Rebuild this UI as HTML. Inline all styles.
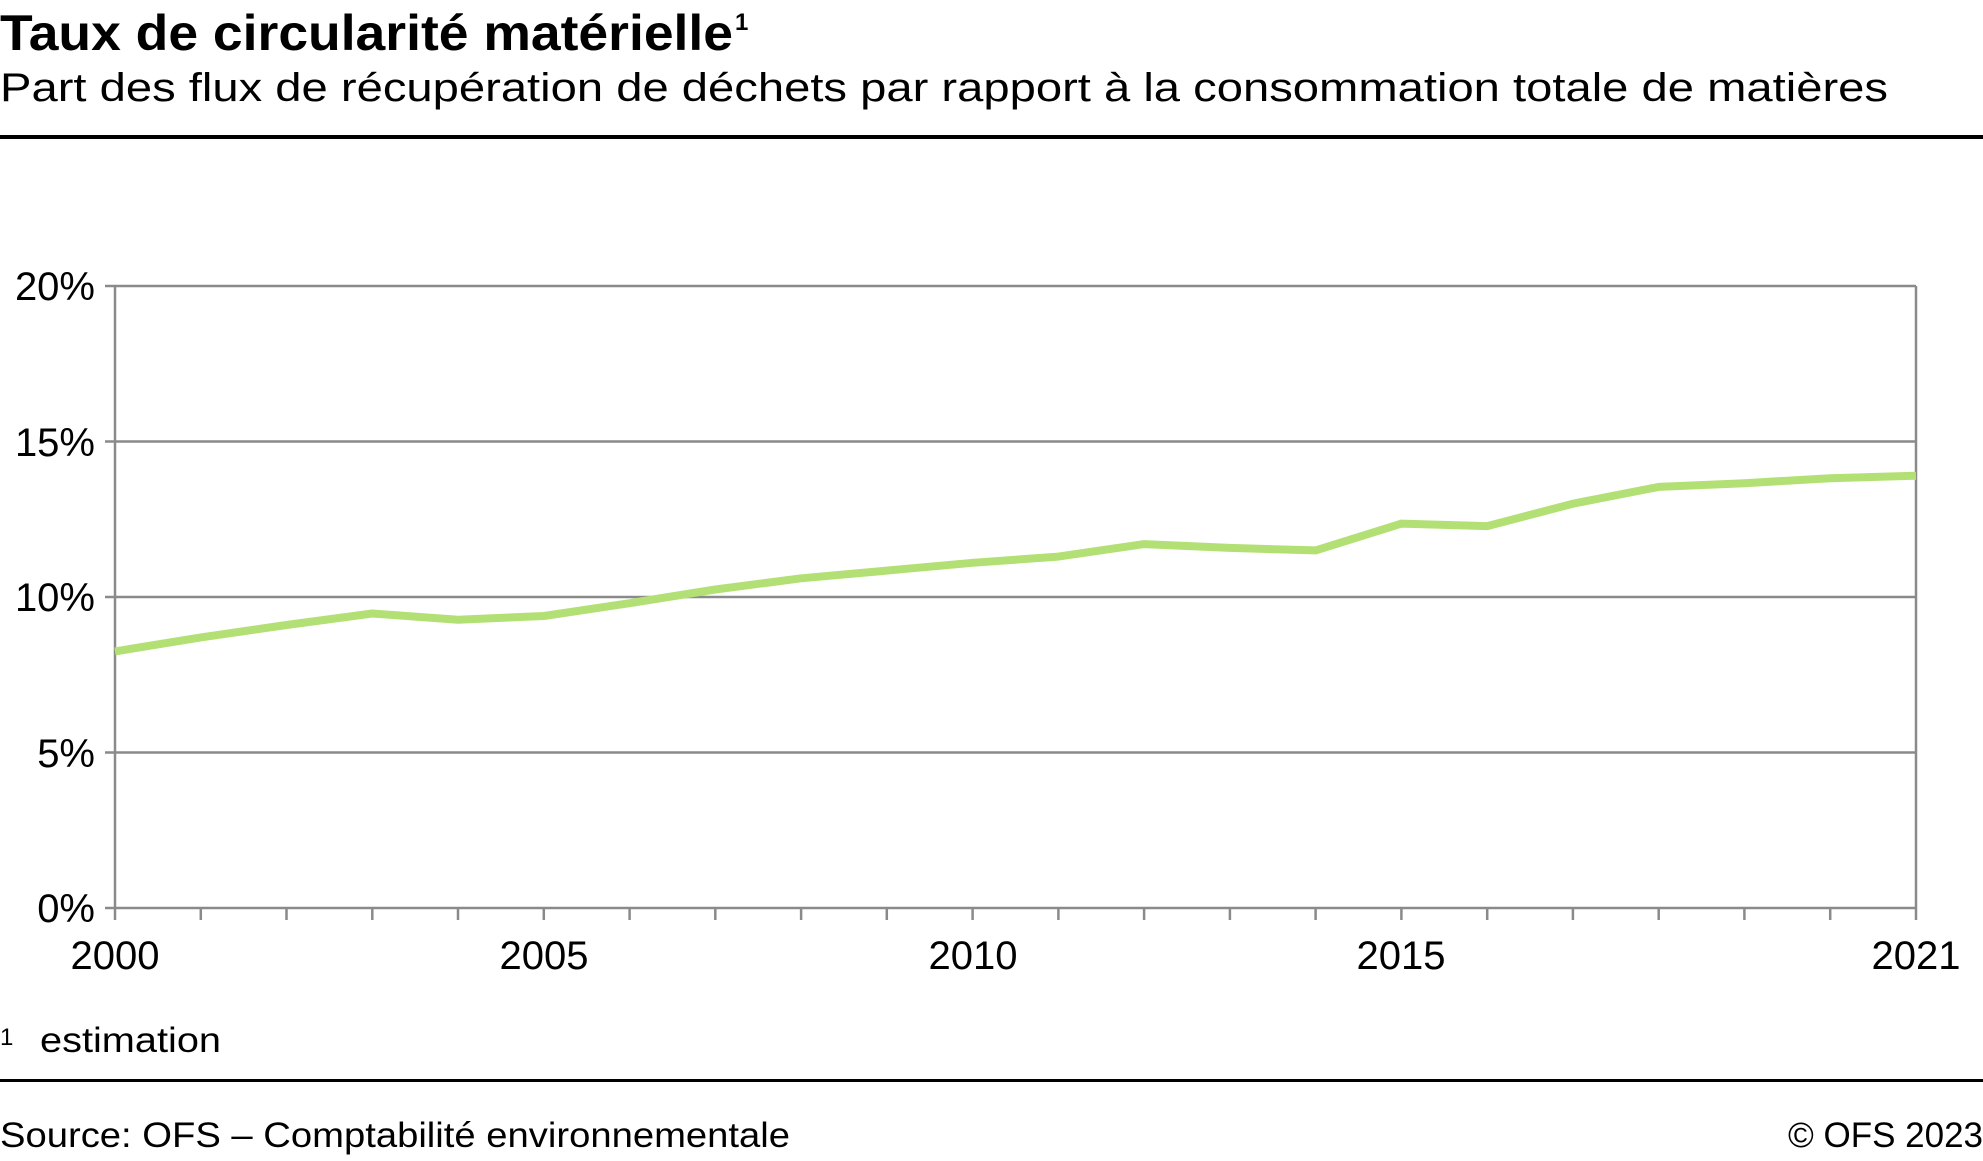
<!DOCTYPE html>
<html><head><meta charset="utf-8"><style>
html,body{margin:0;padding:0;background:#fff}
svg{display:block}
text{font-family:"Liberation Sans",Arial,sans-serif;fill:#000}
</style></head><body>
<svg width="1983" height="1161" viewBox="0 0 1983 1161" xmlns="http://www.w3.org/2000/svg">
<text x="0" y="50" font-size="50" font-weight="bold" textLength="733" lengthAdjust="spacingAndGlyphs">Taux de circularité matérielle</text>
<text x="735" y="30" font-size="24" font-weight="bold">1</text>
<text x="0" y="101" font-size="40" textLength="1888" lengthAdjust="spacingAndGlyphs">Part des flux de récupération de déchets par rapport à la consommation totale de matières</text>
<rect x="0" y="135" width="1983" height="4" fill="#000"/>
<g stroke="#8a8a8a" stroke-width="2.5" fill="none">
<line x1="105" y1="286" x2="1916" y2="286"/>
<line x1="105" y1="441.5" x2="1916" y2="441.5"/>
<line x1="105" y1="597" x2="1916" y2="597"/>
<line x1="105" y1="752.5" x2="1916" y2="752.5"/>
<line x1="105" y1="908" x2="1916" y2="908"/>
<line x1="115" y1="286" x2="115" y2="920"/>
<line x1="1916" y1="286" x2="1916" y2="920"/>
<path d="M200.8 908v12M286.5 908v12M372.3 908v12M458 908v12M543.8 908v12M629.6 908v12M715.3 908v12M801.1 908v12M886.8 908v12M972.6 908v12M1058.4 908v12M1144.1 908v12M1229.9 908v12M1315.6 908v12M1401.4 908v12M1487.2 908v12M1572.9 908v12M1658.7 908v12M1744.4 908v12M1830.2 908v12"/>
</g>
<g font-size="40" text-anchor="end">
<text x="95" y="300">20%</text>
<text x="95" y="456">15%</text>
<text x="95" y="611">10%</text>
<text x="95" y="767">5%</text>
<text x="95" y="922">0%</text>
</g>
<g font-size="40" text-anchor="middle">
<text x="115" y="969">2000</text>
<text x="544" y="969">2005</text>
<text x="973" y="969">2010</text>
<text x="1401" y="969">2015</text>
<text x="1916" y="969">2021</text>
</g>
<polyline fill="none" stroke="#b3e074" stroke-width="8" stroke-linejoin="round"
points="115,651.4 200.8,637.4 286.5,625 372.3,613.5 458,619.7 543.8,616 629.6,603.2 715.3,589.5 801.1,578.3 886.8,570.6 972.6,562.8 1058.4,556.6 1144.1,544.1 1229.9,547.9 1315.6,550.4 1401.4,523.6 1487.2,526.1 1572.9,503.7 1658.7,486.9 1744.4,483.2 1830.2,478.2 1916,475.7"/>
<text x="0" y="1045" font-size="24">1</text>
<text x="40" y="1052" font-size="35" textLength="181" lengthAdjust="spacingAndGlyphs">estimation</text>
<rect x="0" y="1079" width="1983" height="3" fill="#000"/>
<text x="0" y="1147" font-size="35" textLength="790" lengthAdjust="spacingAndGlyphs">Source: OFS – Comptabilité environnementale</text>
<text x="1983" y="1147" font-size="35" text-anchor="end">© OFS 2023</text>
</svg>
</body></html>
